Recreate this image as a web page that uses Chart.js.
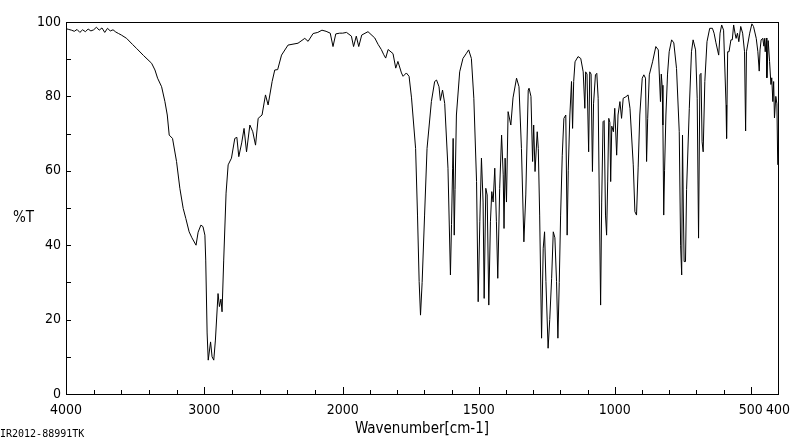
<!DOCTYPE html>
<html>
<head>
<meta charset="utf-8">
<script src="https://cdn.jsdelivr.net/npm/chart.js@4.4.1/dist/chart.umd.min.js"></script>
<style>
  body { margin: 0; background: #fff; }
  canvas { display: block; }
</style>
</head>
<body>
<canvas id="espectro" width="800" height="441"></canvas>
<script>
// Wavenumber (cm-1), high to low
const wavenumber = [
  4000, 3980, 3960, 3940, 3920, 3900, 3880, 3860, 3840, 3820, 3800, 3780, 3760, 3740, 3720, 3700,
  3680, 3660, 3640, 3620, 3600, 3562, 3520, 3490, 3440, 3381, 3357, 3338, 3309, 3285, 3268, 3254,
  3230, 3201, 3177, 3153, 3134, 3110, 3090, 3060, 3045, 3025, 3010, 2996, 2990, 2980, 2972, 2955,
  2944, 2932, 2920, 2901, 2891, 2880, 2872, 2860, 2843, 2828, 2804, 2780, 2765, 2751,
  2730, 2713, 2695, 2671, 2650, 2630, 2611, 2583, 2558, 2539, 2510, 2491, 2470, 2442, 2395, 2323,
  2274, 2250, 2214, 2180, 2150, 2120, 2090, 2070, 2050, 2022,
  2000, 1986, 1968, 1960, 1950, 1941, 1930, 1907, 1882, 1870, 1858, 1849, 1842, 1833, 1815, 1805,
  1797, 1784, 1778, 1766, 1756, 1747, 1732, 1725, 1719, 1714, 1708, 1699, 1690, 1674, 1662, 1655,
  1646, 1641, 1633, 1625, 1613, 1604, 1600, 1596, 1594, 1590, 1587, 1582, 1570, 1558, 1545, 1537,
  1527, 1518, 1508, 1502, 1496, 1490, 1484, 1480, 1474, 1469, 1463, 1457, 1452, 1447, 1441, 1435,
  1430, 1423, 1416, 1410, 1407, 1403, 1398, 1392, 1382, 1374, 1361, 1352, 1343, 1334, 1327, 1318,
  1315, 1308, 1302, 1298, 1293, 1285, 1281, 1276, 1269, 1263, 1258, 1253, 1245, 1239, 1232, 1226,
  1220, 1214, 1209, 1204, 1199, 1193, 1187, 1180, 1175, 1171, 1165, 1159, 1155, 1151, 1146, 1135,
  1125, 1116, 1110, 1107, 1102, 1096, 1092, 1087, 1082, 1078, 1071, 1066, 1061, 1057, 1052, 1048,
  1043, 1039, 1034, 1030, 1026, 1022, 1018, 1015, 1011, 1005, 1000, 993, 988, 981, 975, 969,
  959, 951, 944, 932, 926, 920, 914, 908, 899, 893, 887, 883, 879, 873, 861, 849,
  840, 832, 829, 826, 823, 820, 817, 812, 806, 800, 791, 783, 773, 763, 758, 754,
  751, 748, 745, 740, 736, 726, 718, 712, 703, 697, 692, 687, 683, 679, 675, 669,
  661, 651, 641, 635, 628, 618, 613, 607, 600, 591, 589, 585, 580, 573, 568, 563,
  558, 554, 549, 544, 537, 530, 523, 519, 516, 504, 496, 490, 480, 474, 469, 466,
  462, 456, 452, 450, 447, 443, 441, 436, 431, 426, 423, 419, 416, 413, 408, 404, 401
];

// Transmittance (%T)
const transmitancia = [
  98.2, 98.0, 97.8, 97.5, 98.0, 97.2, 97.9, 97.4, 98.1, 97.6, 97.9, 98.6, 97.8, 98.4, 97.2, 98.3,
  97.6, 97.9, 97.3, 96.9, 96.5, 95.6, 94.0, 92.9, 91.0, 88.9, 87.1, 84.9, 82.6, 78.6, 75.0, 69.6,
  68.7, 62.5, 55.3, 49.9, 47.2, 43.6, 42.0, 40.0, 43.5, 45.4, 45.0, 42.7, 36.0, 16.4, 9.1, 14.0,
  10.0, 9.1, 14.5, 27.0, 23.5, 25.5, 22.1, 36.0, 54.0, 61.6, 63.4, 68.7, 69.0, 63.8,
  67.5, 71.4, 65.1, 72.3, 70.5, 66.9, 74.1, 75.0, 80.4, 77.7, 84.0, 87.1, 87.2, 91.1, 93.8, 94.3,
  95.6, 94.8, 96.9, 97.2, 97.8, 97.5, 97.0, 93.4, 96.8, 97.0,
  97.0, 97.2, 96.2, 93.4, 96.2, 93.4, 96.5, 97.4, 95.7, 94.0, 92.6, 91.2, 90.3, 92.6, 91.5, 87.6,
  89.4, 86.3, 85.4, 86.3, 85.4, 79.6, 66.0, 48.1, 30.2, 21.2, 30.0, 48.1, 66.0, 78.6, 84.0, 84.4,
  82.6, 78.9, 81.7, 78.1, 60.7, 32.0, 45.6, 60.7, 68.7, 42.7, 55.0, 75.0, 86.6, 90.2, 91.6, 92.5,
  90.2, 79.5, 57.1, 24.8, 46.3, 63.4, 51.6, 25.7, 55.3, 53.5, 23.9, 46.3, 54.4, 51.6, 60.7, 46.3,
  31.1, 55.3, 69.6, 58.9, 44.5, 63.4, 51.6, 75.9, 72.3, 79.6, 84.9, 82.6, 66.0, 40.9, 53.5, 81.7,
  82.2, 80.0, 62.5, 72.3, 59.8, 70.5, 66.0, 48.1, 15.0, 39.2, 43.6, 30.2, 12.3, 20.0, 31.1, 43.6,
  42.0, 30.2, 15.0, 30.0, 48.1, 64.2, 74.1, 75.0, 42.7, 60.0, 75.0, 84.0, 71.4, 84.0, 89.3, 90.7,
  90.2, 86.6, 76.8, 86.6, 86.0, 65.1, 86.6, 86.0, 59.8, 78.0, 85.8, 86.2, 79.5, 53.5, 23.9, 51.6,
  73.2, 73.5, 48.1, 42.7, 57.0, 74.1, 73.0, 57.1, 72.0, 70.5, 76.8, 64.2, 75.0, 78.6, 74.1, 79.5,
  79.9, 80.4, 76.8, 61.6, 49.0, 48.1, 61.0, 75.0, 84.9, 85.8, 84.9, 62.5, 74.0, 85.8, 89.3, 93.4,
  92.5, 78.6, 86.0, 83.0, 72.3, 48.1, 60.0, 75.0, 86.0, 92.0, 95.2, 94.4, 87.5, 70.5, 40.0, 32.0,
  69.6, 50.0, 35.6, 35.6, 55.0, 76.8, 92.0, 95.2, 92.5, 79.5, 41.9, 85.8, 86.2, 67.8, 65.1, 84.0,
  94.7, 98.3, 98.3, 97.0, 94.4, 91.1, 97.0, 99.2, 97.8, 77.7, 68.7, 92.0, 92.0, 95.2, 95.2, 99.2,
  97.0, 95.6, 97.0, 94.7, 98.8, 97.0, 92.0, 70.7, 92.0, 97.0, 99.5, 98.8, 95.6, 92.0, 86.8, 92.5,
  95.2, 95.6, 93.5, 95.6, 92.0, 95.7, 85.0, 95.0, 89.4, 83.2, 85.0, 78.6, 84.0, 74.2, 80.0, 78.0, 61.6
];

const rotulosX = [4000, 3000, 2000, 1500, 1000, 500, 400];
const menoresX = [3800, 3600, 3400, 3200, 2800, 2600, 2400, 2200,
  1900, 1800, 1700, 1600, 1400, 1300, 1200, 1100, 900, 800, 700, 600];
const rotulosY = [0, 20, 40, 60, 80, 100];
const menoresY = [10, 20, 30, 40, 50, 60, 70, 80, 90];

// above 2000 cm-1 the axis is compressed (about half the scale)
const FATOR = 0.5085;
const paraEixo = v => v <= 2000 ? v : 2000 + (v - 2000) * FATOR;

const pontos = wavenumber.map((v, i) => ({ x: paraEixo(v), y: transmitancia[i] }));

const FONTE = "'DejaVu Sans Condensed', 'Liberation Sans', sans-serif";
Chart.defaults.font.family = FONTE;
Chart.defaults.color = '#000';

// frame, inner tick marks and the loose texts
const moldura = {
  id: 'moldura',
  afterDraw(chart) {
    const { ctx, chartArea: a, scales: { x, y } } = chart;
    ctx.save();
    ctx.strokeStyle = '#000';
    ctx.lineWidth = 1;
    ctx.strokeRect(Math.round(a.left) + 0.5, Math.round(a.top) + 0.5,
      Math.round(a.right - a.left), Math.round(a.bottom - a.top));
    ctx.beginPath();
    rotulosX.forEach(v => {
      const px = Math.round(x.getPixelForValue(paraEixo(v))) + 0.5;
      ctx.moveTo(px, a.bottom); ctx.lineTo(px, a.bottom - 7);
    });
    menoresX.forEach(v => {
      const px = Math.round(x.getPixelForValue(paraEixo(v))) + 0.5;
      ctx.moveTo(px, a.bottom); ctx.lineTo(px, a.bottom - 4);
    });
    menoresY.forEach(v => {
      const py = Math.round(y.getPixelForValue(v)) + 0.5;
      ctx.moveTo(a.left, py); ctx.lineTo(a.left + 5, py);
    });
    ctx.stroke();

    ctx.fillStyle = '#000';
    ctx.textBaseline = 'alphabetic';
    ctx.font = '15px ' + FONTE;
    ctx.fillText('%T', 13, 222);
    ctx.font = "10px 'DejaVu Sans Mono', monospace";
    ctx.fillText('IR2012-88991TK', 0, 437);
    ctx.restore();
  }
};

new Chart(document.getElementById('espectro'), {
  type: 'line',
  data: {
    datasets: [{
      data: pontos,
      borderColor: '#000',
      borderWidth: 1,
      pointRadius: 0,
      tension: 0,
      fill: false
    }]
  },
  options: {
    responsive: false,
    animation: false,
    layout: { padding: { left: 0, top: 22, right: 22, bottom: 0 } },
    plugins: {
      legend: { display: false },
      tooltip: { enabled: false }
    },
    scales: {
      x: {
        type: 'linear',
        reverse: true,
        min: paraEixo(400),
        max: paraEixo(4000),
        afterBuildTicks: s => { s.ticks = rotulosX.map(v => ({ value: paraEixo(v) })); },
        afterFit: s => { s.height = 47; },
        ticks: {
          autoSkip: false,
          maxRotation: 0,
          padding: 8,
          font: { size: 14 },
          callback: (val, i) => String(rotulosX[i])
        },
        grid: { display: false, drawTicks: false },
        border: { display: false },
        title: { display: true, text: 'Wavenumber[cm-1]', font: { size: 15 }, padding: { top: 0, bottom: 3 } }
      },
      y: {
        min: 0,
        max: 100,
        afterBuildTicks: s => { s.ticks = rotulosY.map(v => ({ value: v })); },
        afterFit: s => { s.width = 66; },
        ticks: { padding: 5, font: { size: 14 } },
        grid: { display: false, drawTicks: false },
        border: { display: false }
      }
    }
  },
  plugins: [moldura]
});
</script>
</body>
</html>
